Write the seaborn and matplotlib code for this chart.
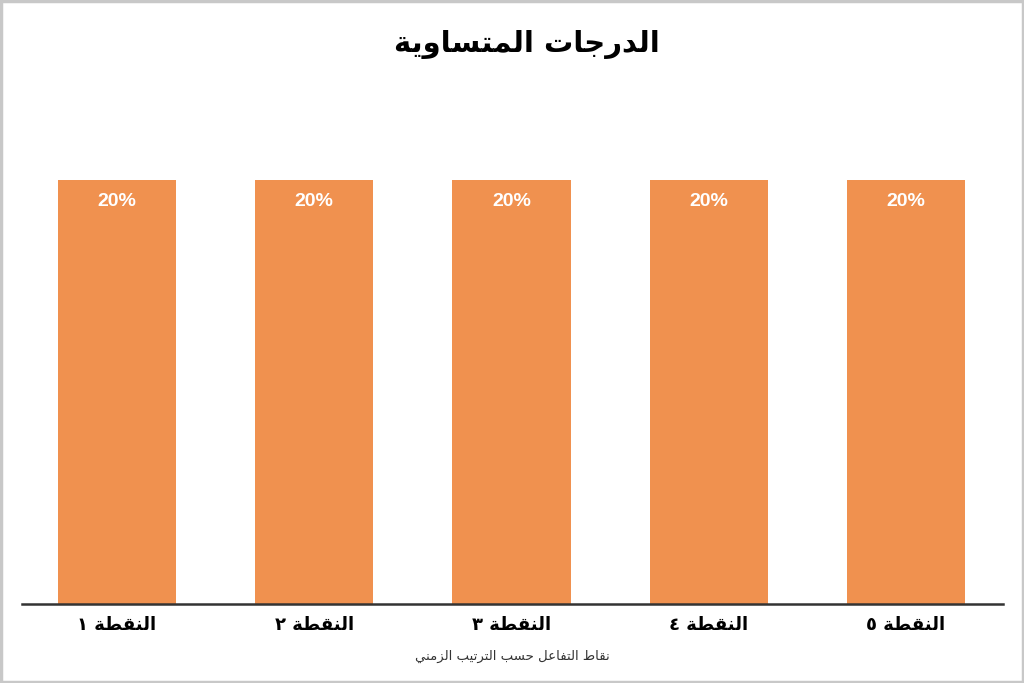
import matplotlib
matplotlib.use("Agg")
import matplotlib.pyplot as plt
import seaborn as sns
import pandas as pd
from matplotlib.patches import Rectangle

# ---- data ----
title = "الدرجات المتساوية"
categories = ["النقطة ١", "النقطة ٢", "النقطة ٣", "النقطة ٤", "النقطة ٥"]
values = [20, 20, 20, 20, 20]
value_labels = ["20%", "20%", "20%", "20%", "20%"]
x_label = "نقاط التفاعل حسب الترتيب الزمني"

# ---- minimal Arabic shaping (presentation forms) + RTL ordering ----
FORMS = {  # iso, fin, ini, med
    "ا": (0xFE8D, 0xFE8E, None, None),
    "ب": (0xFE8F, 0xFE90, 0xFE91, 0xFE92),
    "ة": (0xFE93, 0xFE94, None, None),
    "ت": (0xFE95, 0xFE96, 0xFE97, 0xFE98),
    "ج": (0xFE9D, 0xFE9E, 0xFE9F, 0xFEA0),
    "ح": (0xFEA1, 0xFEA2, 0xFEA3, 0xFEA4),
    "د": (0xFEA9, 0xFEAA, None, None),
    "ر": (0xFEAD, 0xFEAE, None, None),
    "ز": (0xFEAF, 0xFEB0, None, None),
    "س": (0xFEB1, 0xFEB2, 0xFEB3, 0xFEB4),
    "ط": (0xFEC1, 0xFEC2, 0xFEC3, 0xFEC4),
    "ع": (0xFEC9, 0xFECA, 0xFECB, 0xFECC),
    "ف": (0xFED1, 0xFED2, 0xFED3, 0xFED4),
    "ق": (0xFED5, 0xFED6, 0xFED7, 0xFED8),
    "ل": (0xFEDD, 0xFEDE, 0xFEDF, 0xFEE0),
    "م": (0xFEE1, 0xFEE2, 0xFEE3, 0xFEE4),
    "ن": (0xFEE5, 0xFEE6, 0xFEE7, 0xFEE8),
    "و": (0xFEED, 0xFEEE, None, None),
    "ي": (0xFEF1, 0xFEF2, 0xFEF3, 0xFEF4),
}


def shape(text):
    out = []
    n = len(text)
    for i, ch in enumerate(text):
        if ch not in FORMS:
            out.append(ch)
            continue
        iso, fin, ini, med = FORMS[ch]
        prev = text[i - 1] if i > 0 else None
        nxt = text[i + 1] if i + 1 < n else None
        joins_prev = prev in FORMS and FORMS[prev][2] is not None
        joins_next = nxt in FORMS and ini is not None
        if joins_prev and joins_next:
            code = med
        elif joins_prev:
            code = fin
        elif joins_next:
            code = ini
        else:
            code = iso
        out.append(chr(code))
    return "".join(out)[::-1]


BAR_COLOR = "#F0914F"

df = pd.DataFrame({"cat": [shape(c) for c in categories], "val": values})

fig = plt.figure(figsize=(10.24, 6.83), dpi=100)
ax = fig.add_axes([0.0215, 0.1157, 0.958, 0.776])
sns.barplot(data=df, x="cat", y="val", color=BAR_COLOR, width=0.6,
            saturation=1, ax=ax)
ax.set_xlim(-0.4816, 4.4918)
ax.set_ylim(0, 25)

for p, lab in zip(ax.patches, value_labels):
    ax.text(p.get_x() + p.get_width() / 2, p.get_height() - 1.0, lab,
            ha="center", va="center", color="white", fontsize=14,
            fontweight="bold", family=["Liberation Sans", "DejaVu Sans"])

ax.set_yticks([])
for s in ["left", "right", "top"]:
    ax.spines[s].set_visible(False)
ax.spines["bottom"].set_color("#333333")
ax.spines["bottom"].set_linewidth(1.8)
ax.tick_params(axis="x", length=0, pad=9)
for t in ax.get_xticklabels():
    t.set_fontsize(13)
    t.set_fontweight("bold")
    t.set_family("DejaVu Sans")
ax.set_xlabel(shape(x_label), fontsize=9.5, color="#333333", labelpad=11,
              family="DejaVu Sans")
ax.set_ylabel("")

fig.text(0.515, 0.935, shape(title), ha="center", va="center", fontsize=21,
         fontweight="bold", family="DejaVu Sans")

fig.patches.append(Rectangle((0.001, 0.0015), 0.998, 0.997, transform=fig.transFigure,
                             fill=False, edgecolor="#c8c8c8", linewidth=2.5))

fig.savefig("out.png", dpi=100)
